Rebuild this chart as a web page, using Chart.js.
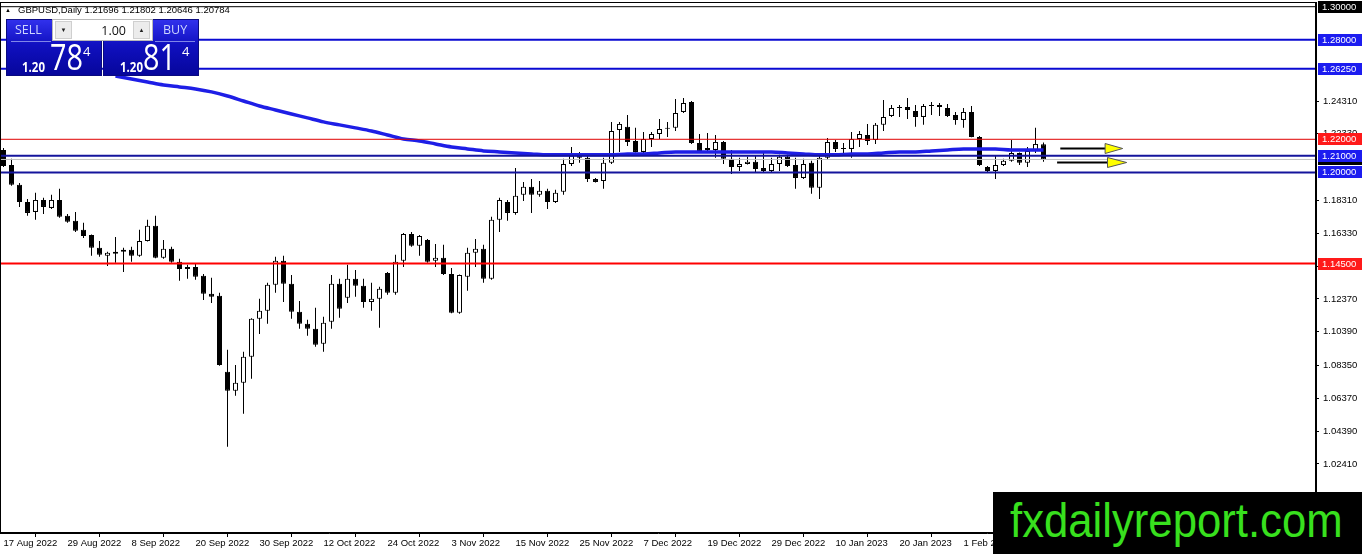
<!DOCTYPE html>
<html><head><meta charset="utf-8">
<script src="https://cdn.jsdelivr.net/npm/chart.js@4.4.1/dist/chart.umd.min.js"></script>
<style>
html,body{margin:0;padding:0;background:#fff;}
#wrap{position:relative;width:1362px;height:554px;overflow:hidden;font-family:'Liberation Sans',Arial,sans-serif;}
#c{position:absolute;left:0;top:0;}
#hdr{position:absolute;left:5px;top:4px;font-size:9.5px;line-height:12px;color:#000;white-space:nowrap;}
#hdr .tri{font-size:6px;display:inline-block;width:13px;vertical-align:1px;}
.pbox{position:absolute;top:19px;width:96px;height:57px;background:linear-gradient(#3232ee,#1010c0 45%,#06069a);box-shadow:inset 0 0 0 1px #0a0a80;}
#sell{left:6px;} #buy{left:103px;}
.plbl{position:absolute;top:2px;font:12.5px 'Open Sans',sans-serif;color:#cdd6ff;}
#sell .plbl{left:9px;} #buy .plbl{left:60px;}
.sep{position:absolute;top:22px;height:1px;background:rgba(200,210,255,.6);}
#sell .sep{left:5px;width:40px;} #buy .sep{left:52px;width:40px;}
.psm,.pbig,.psup{position:absolute;color:#fff;font-family:'Open Sans',sans-serif;line-height:1;transform-origin:left top;white-space:nowrap;}
.psm{top:41px;font-size:14px;font-weight:bold;transform:scaleX(0.82);}
.pbig{top:20px;font-size:36px;transform:scaleX(0.8);}
.psup{top:26px;font-size:13px;}
#sell .psm{left:16px;} #sell .pbig{left:44px;} #sell .psup{left:77px;}
#buy .psm{left:17px;} #buy .pbig{left:40px;} #buy .psup{left:79px;}
#lot{position:absolute;left:52px;top:19px;width:101px;height:22px;background:#fff;border:1px solid #b8b8b8;box-sizing:border-box;}
#lot .btn{position:absolute;top:1px;width:17px;height:18px;background:#ececec;border:1px solid #cfcfcf;box-sizing:border-box;font-size:6px;line-height:16px;text-align:center;color:#222;}
#lot .b1{left:2px;} #lot .b2{left:80px;}
#lot .val{position:absolute;right:26px;top:2px;font:12.5px 'Open Sans',sans-serif;color:#111;}
#wm{position:absolute;left:993px;top:492px;width:369px;height:62px;background:#000;overflow:hidden;}
#wm span{position:absolute;left:17px;top:-2px;font-family:'Liberation Sans',Arial,sans-serif;font-size:48px;line-height:62px;color:#38e01e;white-space:nowrap;transform:scaleX(0.91);transform-origin:left top;}
</style></head><body>
<div id="wrap">
<canvas id="c" width="1362" height="554"></canvas>
<div id="hdr"><span class="tri">▲</span>GBPUSD,Daily 1.21696 1.21802 1.20646 1.20784</div>
<div class="pbox" id="sell"><div class="plbl">SELL</div><div class="sep"></div><div class="psm">1.20</div><div class="pbig">78</div><div class="psup">4</div></div>
<div class="pbox" id="buy"><div class="plbl">BUY</div><div class="sep"></div><div class="psm">1.20</div><div class="pbig">81</div><div class="psup">4</div></div>
<div id="lot"><div class="btn b1">▼</div><div class="val">1.00</div><div class="btn b2">▲</div></div>
<div id="wm"><span>fxdailyreport.com</span></div>
</div>
<script>
// ---- data (GBPUSD daily, bar index 0 = 17 Aug 2022) ----
const opens = [1.2136,1.2045,1.1925,1.1822,1.1762,1.1834,1.1786,1.1834,1.1738,1.1708,
1.1654,1.1623,1.1545,1.1497,1.1521,1.1521,1.1533,1.1497,1.1587,1.1678,
1.1485,1.1539,1.1461,1.1418,1.1430,1.1376,1.1268,1.1256,1.0797,1.0683,
1.0731,1.0888,1.1117,1.1165,1.1322,1.1467,1.1328,1.1159,1.1087,1.1057,
1.0966,1.1099,1.1328,1.1244,1.1358,1.1316,1.1219,1.1238,1.1394,1.1274,
1.1467,1.1629,1.1557,1.1593,1.1467,1.1485,1.1388,1.1153,1.1370,1.1515,
1.1539,1.1358,1.1714,1.1822,1.1756,1.1865,1.1913,1.1865,1.1889,1.1822,
1.1883,1.2051,1.2088,1.2088,1.1961,1.1949,1.2058,1.2256,1.2275,1.2190,
1.2124,1.2202,1.2232,1.2269,1.2269,1.2365,1.2425,1.2178,1.2148,1.2136,
1.2184,1.2082,1.2033,1.2051,1.2064,1.2027,1.2009,1.2051,1.2094,1.2045,
1.1967,1.2058,1.1907,1.2088,1.2184,1.2146,1.2142,1.2202,1.2226,1.2196,
1.2287,1.2341,1.2392,1.2395,1.2371,1.2335,1.2404,1.2407,1.2389,1.2347,
1.2317,1.2365,1.2214,1.2033,1.2009,1.2045,1.2070,1.2118,1.2058,1.2130,
1.21696];
const highs = [1.2148,1.2082,1.1937,1.1840,1.1877,1.1847,1.1865,1.1901,1.1750,1.1762,
1.1696,1.1626,1.1587,1.1521,1.1611,1.1545,1.1551,1.1654,1.1714,1.1738,
1.1593,1.1551,1.1479,1.1443,1.1449,1.1388,1.1364,1.1274,1.0930,1.0839,
1.0918,1.1120,1.1238,1.1334,1.1491,1.1497,1.1382,1.1225,1.1111,1.1183,
1.1129,1.1382,1.1358,1.1443,1.1412,1.1358,1.1334,1.1310,1.1400,1.1503,
1.1635,1.1641,1.1623,1.1599,1.1569,1.1563,1.1424,1.1385,1.1545,1.1599,
1.1563,1.1732,1.1847,1.1834,1.2027,1.1943,1.1961,1.1949,1.1901,1.1895,
1.2082,1.2154,1.2124,1.2118,1.1967,1.2088,1.2305,1.2305,1.2347,1.2269,
1.2244,1.2244,1.2323,1.2305,1.2443,1.2449,1.2431,1.2232,1.2238,1.2226,
1.2190,1.2136,1.2088,1.2094,1.2100,1.2124,1.2088,1.2106,1.2106,1.2088,
1.2082,1.2070,1.2100,1.2208,1.2196,1.2178,1.2244,1.2250,1.2293,1.2299,
1.2437,1.2407,1.2407,1.2449,1.2407,1.2413,1.2425,1.2419,1.2413,1.2365,
1.2389,1.2401,1.2220,1.2039,1.2100,1.2082,1.2196,1.2121,1.2154,1.2269,
1.21802];
const lows = [1.2033,1.1919,1.1792,1.1738,1.1714,1.1750,1.1780,1.1726,1.1696,1.1641,
1.1605,1.1497,1.1491,1.1436,1.1455,1.1400,1.1461,1.1491,1.1584,1.1482,
1.1479,1.1455,1.1346,1.1358,1.1352,1.1231,1.1213,1.0833,1.0345,1.0652,
1.0544,1.0755,1.1026,1.1087,1.1274,1.1219,1.1117,1.1057,1.1014,1.0948,
1.0918,1.1057,1.1123,1.1213,1.1250,1.1183,1.1165,1.1063,1.1262,1.1262,
1.1430,1.1551,1.1497,1.1455,1.1430,1.1382,1.1150,1.1147,1.1286,1.1430,
1.1334,1.1352,1.1641,1.1708,1.1744,1.1828,1.1756,1.1853,1.1780,1.1816,
1.1865,1.2039,1.2058,1.1943,1.1940,1.1901,1.2051,1.2124,1.2160,1.2121,
1.2118,1.2154,1.2202,1.2214,1.2250,1.2359,1.2172,1.2118,1.2118,1.2088,
1.2051,1.1991,1.2009,1.2048,1.2003,1.2003,1.2003,1.2009,1.2033,1.1901,
1.1961,1.1871,1.1840,1.2076,1.2124,1.2118,1.2088,1.2154,1.2166,1.2172,
1.2250,1.2335,1.2335,1.2323,1.2275,1.2287,1.2347,1.2341,1.2335,1.2287,
1.2269,1.2212,1.2039,1.2003,1.1961,1.2039,1.2064,1.2045,1.2033,1.2118,
1.20646];
const closes = [1.2039,1.1925,1.1822,1.1756,1.1834,1.1792,1.1834,1.1732,1.1702,1.1648,
1.1617,1.1545,1.1503,1.1515,1.1509,1.1533,1.1497,1.1587,1.1678,1.1485,
1.1539,1.1461,1.1418,1.1430,1.1370,1.1268,1.1250,1.0839,1.0683,1.0731,
1.0888,1.1117,1.1165,1.1322,1.1467,1.1328,1.1159,1.1087,1.1057,1.0960,
1.1093,1.1328,1.1177,1.1358,1.1316,1.1219,1.1238,1.1298,1.1274,1.1461,
1.1629,1.1557,1.1617,1.1461,1.1485,1.1388,1.1153,1.1382,1.1515,1.1539,
1.1358,1.1714,1.1834,1.1756,1.1859,1.1913,1.1865,1.1889,1.1822,1.1877,
1.2051,1.2100,1.2100,1.1961,1.1943,1.2058,1.2250,1.2293,1.2184,1.2124,
1.2202,1.2232,1.2262,1.2263,1.2359,1.2419,1.2178,1.2130,1.2136,1.2184,
1.2082,1.2033,1.2051,1.2064,1.2021,1.2009,1.2051,1.2094,1.2039,1.1967,
1.2051,1.1907,1.2088,1.2184,1.2142,1.2142,1.2202,1.2232,1.2190,1.2287,
1.2335,1.2389,1.2389,1.2377,1.2335,1.2401,1.2401,1.2395,1.2341,1.2317,
1.2365,1.2214,1.2045,1.2009,1.2045,1.2070,1.2118,1.2058,1.2130,1.2172,
1.20784];
// moving average (bar index -> value)
const maBars = [14,16,18,20,22,24,26,28,30,32,34,36,38,40,42,44,46,48,50,52,54,56,58,60,62,64,66,68,70,72,74,76,78,80,82,84,86,88,90,92,94,96,98,100,102,104,106,108,110,112,114,116,118,120,122,124,126,128,130];
const maValues = [1.2582,1.2564,1.2546,1.2528,1.2516,1.2504,1.2486,1.2461,1.2431,1.2401,1.2377,1.2353,1.2329,1.2305,1.2287,1.2269,1.2250,1.2226,1.2202,1.2190,1.2172,1.2154,1.2142,1.2130,1.2124,1.2118,1.2112,1.2106,1.2106,1.2106,1.2106,1.2106,1.2112,1.2112,1.2118,1.2124,1.2124,1.2124,1.2124,1.2124,1.2124,1.2124,1.2118,1.2112,1.2106,1.2106,1.2112,1.2112,1.2118,1.2124,1.2124,1.2130,1.2136,1.2142,1.2142,1.2142,1.2136,1.2136,1.2136];
// horizontal levels
const levelValues = [1.30, 1.28, 1.2625, 1.22, 1.21, 1.20, 1.145, 1.20784];
// x-axis tick labels every 8 bars
const xTickBars = [0,8,16,24,32,40,48,56,64,72,80,88,96,104,112,120];
const dateLabels = ['17 Aug 2022','29 Aug 2022','8 Sep 2022','20 Sep 2022','30 Sep 2022','12 Oct 2022','24 Oct 2022','3 Nov 2022','15 Nov 2022','25 Nov 2022','7 Dec 2022','19 Dec 2022','29 Dec 2022','10 Jan 2023','20 Jan 2023','1 Feb 2023'];
// y-axis tick values
const yTickValues = [1.2431,1.2233,1.1831,1.1633,1.1435,1.1237,1.1039,1.0835,1.0637,1.0439,1.0241];
// price label boxes on the right axis
const boxValues = [1.20784, 1.30, 1.28, 1.2625, 1.22, 1.21, 1.20, 1.145];
// arrows (bar index / price)
const arrowY = [1.2148, 1.2066];
const arrowFrom = [132.1, 131.7];
const arrowHead = [137.7, 138.0];
const arrowTip = [139.9, 140.4];

// ---- styles ----
const levelStyles = [
  {c:'#000000', w:1},{c:'#0a0ad2', w:2},{c:'#0a0ad2', w:2},{c:'#e00000', w:1},
  {c:'#14149c', w:2},{c:'#14149c', w:2},{c:'#ff0000', w:2},{c:'#c0c0c0', w:1}
];
const boxColors = ['#000','#000','#1c1cf0','#1c1cf0','#ff1a1a','#1c1cf0','#1c1cf0','#ff1a1a'];

const xMin = -0.4375, xMax = 164.0625;
const yMin = 0.98247, yMax = 1.30283;
const idx = closes.map((_, i) => i);

const overlay = {
  id: 'overlay',
  afterDatasetsDraw(chart) {
    const {ctx, scales: {x, y}} = chart;
    ctx.save();
    for (let k = 0; k < arrowY.length; k++) {
      const py = Math.round(y.getPixelForValue(arrowY[k])) + 0.5;
      const x0 = x.getPixelForValue(arrowFrom[k]);
      const x1 = x.getPixelForValue(arrowHead[k]);
      const x2 = x.getPixelForValue(arrowTip[k]);
      ctx.strokeStyle = '#000'; ctx.lineWidth = 2;
      ctx.beginPath(); ctx.moveTo(x0, py); ctx.lineTo(x1 + 2, py); ctx.stroke();
      ctx.beginPath(); ctx.moveTo(x1, py - 5); ctx.lineTo(x2, py); ctx.lineTo(x1, py + 5); ctx.closePath();
      ctx.fillStyle = '#ffff00'; ctx.fill();
      ctx.lineWidth = 1; ctx.strokeStyle = '#555'; ctx.stroke();
    }
    ctx.restore();
  },
  afterDraw(chart) {
    const {ctx, chartArea: a, scales: {y}} = chart;
    ctx.save();
    ctx.strokeStyle = '#000'; ctx.lineWidth = 1;
    ctx.strokeRect(a.left + 0.5, a.top + 0.5, a.right - a.left - 1, a.bottom - a.top - 1);
    ctx.font = '9.5px "Liberation Sans", Arial, sans-serif';
    ctx.textBaseline = 'middle';
    for (let k = 0; k < boxValues.length; k++) {
      const py = Math.round(y.getPixelForValue(boxValues[k]));
      ctx.fillStyle = boxColors[k];
      ctx.fillRect(a.right + 2, py - 6, chart.width - a.right - 2, 12);
      ctx.fillStyle = '#fff';
      ctx.fillText(boxValues[k].toFixed(5), a.right + 6, py + 0.5);
    }
    ctx.restore();
  }
};

const levelSets = levelValues.map((v, k) => ({
  type: 'line', data: [{x: xMin, y: v}, {x: xMax, y: v}],
  borderColor: levelStyles[k].c, borderWidth: levelStyles[k].w,
  pointRadius: 0, order: k === 7 ? 3 : 1
}));

const noPad = s => { s.paddingTop = 0; s.paddingBottom = 0; s.paddingLeft = 0; s.paddingRight = 0; };

new Chart(document.getElementById('c'), {
  type: 'bar',
  data: {
    datasets: [
      {label: 'wick', data: idx.map(i => ({x: i, y: [lows[i], highs[i]]})),
       backgroundColor: '#000', borderWidth: 0, barThickness: 1, maxBarThickness: 1,
       grouped: false, minBarLength: 1, inflateAmount: 0, order: 6},
      {label: 'body', data: idx.map(i => ({x: i, y: [opens[i], closes[i]]})),
       backgroundColor: c => closes[c.dataIndex] >= opens[c.dataIndex] ? '#fff' : '#000',
       borderColor: '#000', borderWidth: 1, borderSkipped: false,
       barThickness: 5, maxBarThickness: 5, grouped: false, minBarLength: 1, inflateAmount: 0, order: 5},
      {type: 'line', label: 'MA', data: maBars.map((b, k) => ({x: b, y: maValues[k]})),
       borderColor: '#1e1ee6', borderWidth: 3.5, pointRadius: 0, cubicInterpolationMode: 'monotone', order: 2},
      ...levelSets
    ]
  },
  options: {
    responsive: false, animation: false, events: [],
    layout: {padding: {top: 2, left: 0, right: 0, bottom: 0}, autoPadding: false},
    plugins: {legend: {display: false}, tooltip: {enabled: false}},
    scales: {
      x: {
        type: 'linear', min: xMin, max: xMax, offset: false,
        grid: {display: true, drawOnChartArea: false, drawTicks: true, tickLength: 4, color: '#000'},
        border: {display: true, color: '#000', width: 1},
        afterBuildTicks: s => { s.ticks = xTickBars.map(v => ({value: v})); },
        ticks: {autoSkip: false, maxRotation: 0, minRotation: 0, align: 'start', padding: 1, color: '#000',
                font: {size: 9.5, family: '"Liberation Sans", Arial, sans-serif'},
                callback: v => { const j = xTickBars.indexOf(v); return j >= 0 ? dateLabels[j] : ''; }},
        afterFit: s => { s.height = 21; noPad(s); }
      },
      y: {
        type: 'linear', position: 'right', min: yMin, max: yMax,
        grid: {display: true, drawOnChartArea: false, drawTicks: true, tickLength: 3, color: '#000'},
        border: {display: true, color: '#000', width: 1},
        afterBuildTicks: s => { s.ticks = yTickValues.map(v => ({value: v})); },
        ticks: {autoSkip: false, padding: 4, color: '#000',
                font: {size: 9.5, family: '"Liberation Sans", Arial, sans-serif'},
                callback: v => Number(v).toFixed(5)},
        afterFit: s => { s.width = 46; noPad(s); }
      }
    }
  },
  plugins: [overlay]
});
</script>
</body></html>
